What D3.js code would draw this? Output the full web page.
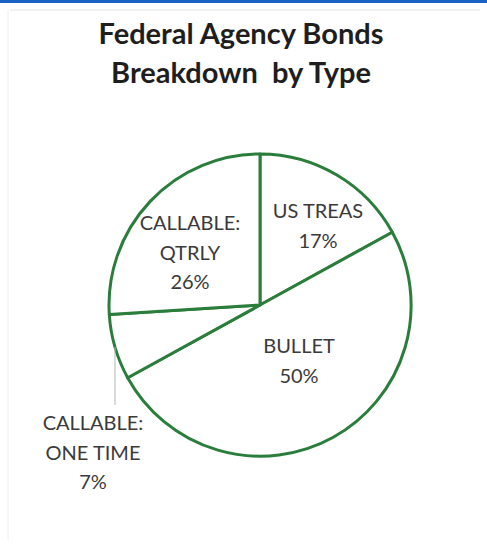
<!DOCTYPE html>
<html>
<head>
<meta charset="utf-8">
<script src="https://cdn.jsdelivr.net/npm/d3@7"></script>
<style>
  body { margin: 0; background: #fff; }
  svg { display: block; }
</style>
</head>
<body>
<svg id="chart" width="487" height="556"></svg>
<script>
// slices, clockwise from 12 o'clock
const categories = ["US TREAS", "BULLET", "CALLABLE: ONE TIME", "CALLABLE: QTRLY"];
const shares = [17, 50, 7, 26];
const labelLines = [["US TREAS", "17%"], ["BULLET", "50%"], ["CALLABLE:", "ONE TIME", "7%"], ["CALLABLE:", "QTRLY", "26%"]];
const titleLines = ["Federal Agency Bonds", "Breakdown\u00a0 by Type"];

const svgWidth = 487;
const svgHeight = 556;
const cx = 260, cy = 305, radius = 151;
const green = "#2b7d3c";
const font = "Lato, 'Open Sans', sans-serif";

const svg = d3.select("#chart");

// page frame
svg.append("rect").attr("x", 0).attr("y", 0).attr("width", svgWidth).attr("height", 3).attr("fill", "#1a62c4");
svg.append("line").attr("x1", 10).attr("x2", 480).attr("y1", 10).attr("y2", 10)
    .attr("stroke", "#e4e4e4").attr("stroke-width", 1);
svg.append("line").attr("x1", 8).attr("x2", 8).attr("y1", 10).attr("y2", 540)
    .attr("stroke", "#eeeeee").attr("stroke-width", 1);

// title
svg.append("g").selectAll("text")
    .data(titleLines)
    .enter().append("text")
    .attr("x", 241)
    .attr("y", (d, i) => 44 + i * 39)
    .attr("text-anchor", "middle")
    .attr("font-family", font)
    .attr("font-weight", "bold")
    .attr("font-size", 29)
    .attr("fill", "#1e1e1e")
    .text(d => d);

const data = categories.map((c, i) => ({ name: c, value: shares[i], lines: labelLines[i] }));
const pie = d3.pie().sort(null).value(d => d.value);
const arc = d3.arc().innerRadius(0).outerRadius(radius);
const arcs = pie(data);

const g = svg.append("g").attr("transform", `translate(${cx},${cy})`);

g.selectAll("path")
    .data(arcs)
    .enter().append("path")
    .attr("d", arc)
    .attr("fill", "#fff")
    .attr("stroke", green)
    .attr("stroke-width", 3)
    .attr("stroke-linejoin", "round");

// label positions relative to centre (first baseline)
const labelPos = [[58, -87], [39, 48], [-167, 125], [-70, -75]];
const lineGap = 29.5;

// leader line for the small slice
const small = arcs[2];
const mid = (small.startAngle + small.endAngle) / 2;
const lx = Math.sin(mid) * radius, ly = -Math.cos(mid) * radius;
g.append("line")
    .attr("x1", lx).attr("y1", ly)
    .attr("x2", lx).attr("y2", 100)
    .attr("stroke", "#b5b5b5").attr("stroke-width", 1);

arcs.forEach((a, i) => {
    const t = g.append("text")
        .attr("text-anchor", "middle")
        .attr("font-family", font)
        .attr("font-size", 20)
        .attr("fill", "#3a3a3a");
    a.data.lines.forEach((line, j) => {
        t.append("tspan")
            .attr("x", labelPos[i][0])
            .attr("y", labelPos[i][1] + j * lineGap)
            .text(line);
    });
});
</script>
</body>
</html>
